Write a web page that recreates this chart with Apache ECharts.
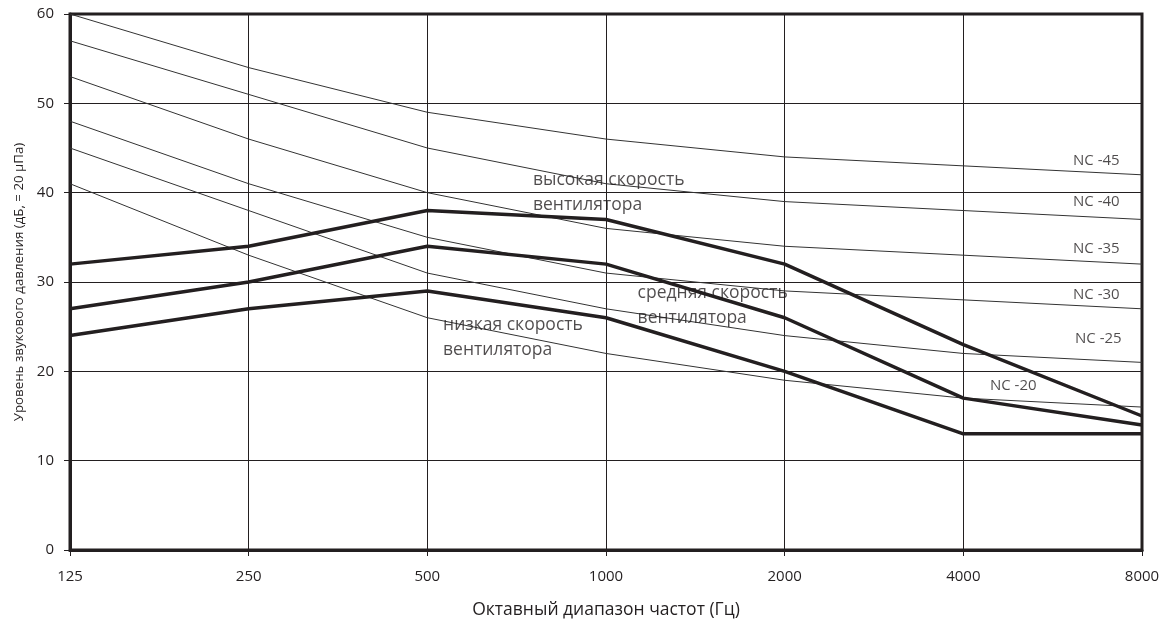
<!DOCTYPE html>
<html>
<head>
<meta charset="utf-8">
<script src="https://cdn.jsdelivr.net/npm/echarts@6/dist/echarts.min.js"></script>
<style>html,body{margin:0;padding:0;background:#fff}#c{width:1167px;height:627px}</style>
</head>
<body>
<div id="c"></div>
<script>
const categories = ['125','250','500','1000','2000','4000','8000'];
const nc45 = [60,54,49,46,44,43,42];
const nc40 = [57,51,45,41,39,38,37];
const nc35 = [53,46,40,36,34,33,32];
const nc30 = [48,41,35,31,29,28,27];
const nc25 = [45,38,31,27,24,22,21];
const nc20 = [41,33,26,22,19,17,16];
const highSpeed = [32,34,38,37,32,23,15];
const midSpeed = [27,30,34,32,26,17,14];
const lowSpeed = [24,27,29,26,20,13,13];
const ncLabels = [
  ['NC -45', 5.614, 43.58],
  ['NC -40', 5.614, 38.96],
  ['NC -35', 5.614, 33.77],
  ['NC -30', 5.614, 28.62],
  ['NC -25', 5.625, 23.62],
  ['NC -20', 5.149, 18.36]
];
const fanLabels = [
  ['высокая скорость\nвентилятора', 2.591, 40.02],
  ['средняя скорость\nвентилятора', 3.177, 27.37],
  ['низкая скорость\nвентилятора', 2.088, 23.79]
];

const FONT = 'Open Sans';
const DARK = '#231f20';
const TXT = '#231f20';
const chart = echarts.init(document.getElementById('c'));
function thin(name, data){
  return {name, type:'line', data, symbol:'none', smooth:false, z:2,
    lineStyle:{color:'#333', width:1}, silent:true};
}
function thick(name, data){
  return {name, type:'line', data, symbol:'none', z:3,
    lineStyle:{color:DARK, width:3.5}, silent:true};
}
function annot(items, size, lh){
  return {type:'scatter', xAxisIndex:1, yAxisIndex:0, symbolSize:0, z:5, silent:true,
    data: items.map(d => ({value:[d[1], d[2]], name:d[0]})),
    label:{show:true, position:'right', distance:0, formatter:p=>p.name,
      color:TXT, fontFamily:FONT, fontSize:size, lineHeight:lh, align:'left', verticalAlign:'middle'}};
}
chart.setOption({
  animation:false,
  grid:{left:70, right:25, top:14, bottom:77, show:true, borderColor:DARK, borderWidth:3},
  xAxis:[{
    type:'category', data:categories, boundaryGap:false,
    axisLine:{show:true, lineStyle:{color:DARK, width:3}},
    axisTick:{show:true, alignWithLabel:true, length:6, lineStyle:{color:DARK, width:1}},
    axisLabel:{color:TXT, fontFamily:FONT, fontSize:15, margin:19},
    splitLine:{show:true, lineStyle:{color:DARK, width:1}},
    name:'Октавный диапазон частот (Гц)', nameLocation:'middle', nameGap:51,
    nameTextStyle:{color:TXT, fontFamily:FONT, fontSize:17.5}
  },{
    type:'value', min:0, max:6, show:false
  }],
  yAxis:{
    type:'value', min:0, max:60, interval:10,
    axisLine:{show:true, lineStyle:{color:DARK, width:3}},
    axisTick:{show:true, length:6, lineStyle:{color:DARK, width:1}},
    axisLabel:{color:TXT, fontFamily:FONT, fontSize:15, margin:16},
    splitLine:{show:true, lineStyle:{color:DARK, width:1}},
    name:'Уровень звукового давления (дБ, = 20 μПа)', nameLocation:'middle', nameGap:44,
    nameTextStyle:{color:TXT, fontFamily:FONT, fontSize:13.3}
  },
  series:[
    thin('NC-45', nc45), thin('NC-40', nc40), thin('NC-35', nc35),
    thin('NC-30', nc30), thin('NC-25', nc25), thin('NC-20', nc20),
    thick('high', highSpeed), thick('mid', midSpeed), thick('low', lowSpeed),
    annot(ncLabels, 15, 17),
    annot(fanLabels, 17.5, 25)
  ]
});
</script>
</body>
</html>
